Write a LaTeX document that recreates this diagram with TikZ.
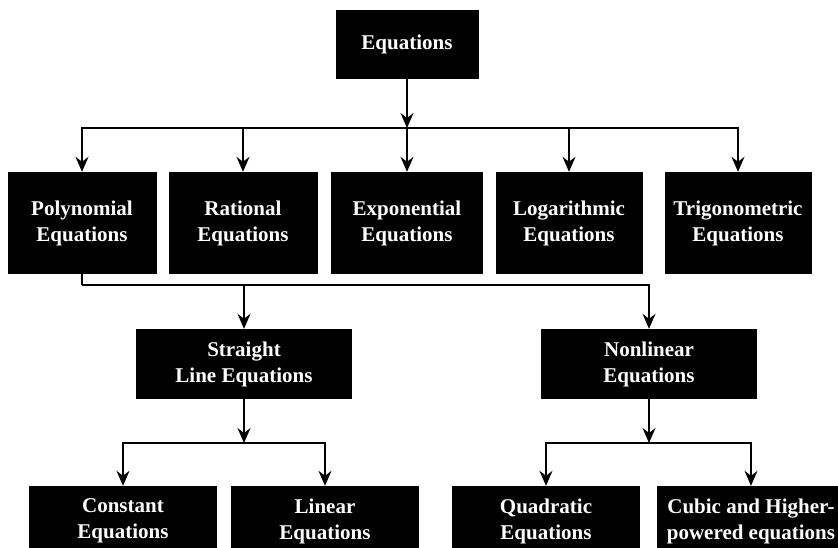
\documentclass[tikz,border=0pt]{standalone}
\usepackage{fontspec}
\setmainfont{Liberation Serif}
\usetikzlibrary{arrows.meta}
\begin{document}
\begin{tikzpicture}[x=1pt,y=-1pt,
  box/.style={fill=black,text=white,font=\fontsize{21}{26}\selectfont\bfseries,align=center,inner sep=0pt,anchor=center},
  rowtwo/.style={box,minimum width=149pt,minimum height=102pt},
  rowthree/.style={box,minimum width=216pt,minimum height=70pt},
  rowfour/.style={box,minimum width=188pt,minimum height=70pt},
  conn/.style={line width=1.7pt,-{Stealth[length=15pt,width=13pt,inset=5pt]}},
  wire/.style={line width=1.7pt}]
\useasboundingbox (0,0) rectangle (838,548);
\node[box,minimum width=143pt,minimum height=69pt] (eq) at (407,44.5) {Equations};
\node[rowtwo] (poly) at (82,223) {Polynomial\\Equations};
\node[rowtwo] (rat) at (243,223) {Rational\\Equations};
\node[rowtwo,minimum width=152pt] (expo) at (407,223) {Exponential\\Equations};
\node[rowtwo,minimum width=147pt] (log) at (569,223) {Logarithmic\\Equations};
\node[rowtwo,minimum width=147pt] (trig) at (738,223) {Trigonometric\\Equations};
\node[rowthree] (straight) at (244,364) {Straight\\Line Equations};
\node[rowthree] (nonlin) at (649,364) {Nonlinear\\Equations};
\node[rowfour] (const) at (123,521) {Constant\\Equations};
\node[rowfour] (linear) at (325,521) {Linear\\Equations};
\node[rowfour] (quad) at (546,521) {Quadratic\\Equations};
\node[rowfour] (cubic) at (751,521) {Cubic and Higher-\\powered equations};
\coordinate (j1) at (407,128);
\coordinate (j2) at (82,285);
\coordinate (j3) at (244,443);
\coordinate (j4) at (649,443);
% level 1
\draw[conn] (eq.south) -- (j1);
\draw[conn] (j1) -| (poly.north);
\draw[conn] (j1) -| (trig.north);
\draw[conn] (rat.north |- j1) -- (rat.north);
\draw[conn] (j1) -- (expo.north);
\draw[conn] (log.north |- j1) -- (log.north);
% level 2
\draw[wire] (poly.south) -- (j2);
\draw[conn] (j2) -| (nonlin.north);
\draw[conn] (straight.north |- j2) -- (straight.north);
% level 3
\draw[conn] (straight.south) -- (j3);
\draw[conn] (j3) -| (const.north);
\draw[conn] (j3) -| (linear.north);
\draw[conn] (nonlin.south) -- (j4);
\draw[conn] (j4) -| (quad.north);
\draw[conn] (j4) -| (cubic.north);
\end{tikzpicture}
\end{document}
